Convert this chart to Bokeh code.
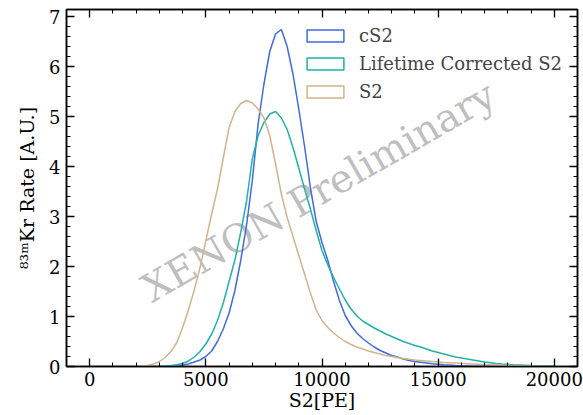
import numpy as np
from bokeh.plotting import figure
from bokeh.models import (LinearAxis, SingleIntervalTicker, Range1d, Legend, LegendItem,
                          ColumnDataSource, CustomJSTickFormatter)
from bokeh.core.properties import value
from bokeh.embed import file_html
from bokeh.resources import INLINE

# ---------------- data ----------------
s2_pe = list(range(0, 20001, 250))  # bin positions [PE]

cs2_rate = [0] * 14 + [
    0.005, 0.01, 0.03, 0.05, 0.09, 0.13, 0.2, 0.31, 0.5, 0.75,
    1.07, 1.52, 2.12, 2.82, 3.72, 4.85, 5.65, 6.3, 6.65, 6.74,
    6.4, 5.85, 5.15, 4.4, 3.58, 2.9, 2.48, 2.12, 1.7, 1.32,
    1.02, 0.82, 0.67, 0.56, 0.47, 0.39, 0.32, 0.27, 0.22, 0.19,
    0.15, 0.12, 0.1, 0.085, 0.07, 0.055, 0.045, 0.035, 0.03, 0.022,
    0.016, 0.012, 0.009, 0.007, 0.005, 0.004, 0.003, 0.002, 0.002, 0.001,
    0.001, 0.001, 0, 0, 0, 0, 0]

lifetime_rate = [0] * 12 + [
    0.005, 0.01, 0.02, 0.035, 0.06, 0.11, 0.19, 0.3, 0.45, 0.65,
    0.92, 1.27, 1.7, 2.13, 2.68, 3.3, 4.15, 4.62, 4.88, 5.05,
    5.1, 4.97, 4.74, 4.38, 3.97, 3.55, 3.15, 2.72, 2.32, 2.03,
    1.78, 1.55, 1.33, 1.15, 1.01, 0.91, 0.84, 0.77, 0.71, 0.65,
    0.6, 0.55, 0.5, 0.46, 0.42, 0.39, 0.35, 0.31, 0.28, 0.25,
    0.22, 0.19, 0.17, 0.15, 0.13, 0.11, 0.09, 0.075, 0.06, 0.05,
    0.042, 0.035, 0.03, 0.025, 0.02, 0.016, 0.013, 0.01, 0.008]

s2_rate = [0] * 8 + [
    0.005, 0.01, 0.025, 0.05, 0.1, 0.18, 0.3, 0.48, 0.78, 1.13,
    1.53, 1.98, 2.52, 3.05, 3.55, 4.17, 4.78, 5.1, 5.26, 5.32,
    5.27, 5.15, 4.97, 4.62, 4.05, 3.45, 2.98, 2.6, 2.22, 1.85,
    1.47, 1.13, 0.92, 0.78, 0.67, 0.58, 0.5, 0.44, 0.39, 0.35,
    0.31, 0.28, 0.25, 0.22, 0.2, 0.18, 0.16, 0.145, 0.13, 0.12,
    0.11, 0.1, 0.09, 0.082, 0.075, 0.068, 0.06, 0.055, 0.05, 0.045,
    0.04, 0.035, 0.03, 0.025, 0.02, 0.017, 0.014, 0.011, 0.008, 0.006,
    0.004, 0.002, 0.001]

series_labels = ["cS2", "Lifetime Corrected S2", "S2"]
series_colors = ["royalblue", "lightseagreen", "tan"]

x_ticks_interval = 5000
y_ticks_interval = 1

assert len(cs2_rate) == len(s2_pe) == len(lifetime_rate) == len(s2_rate)

FONT = "DejaVu Serif"
FS = "18px"
FS_LABEL = "19px"

p = figure(width=583, height=415, output_backend="svg", toolbar_location=None,
           x_range=Range1d(-1000, 21000), y_range=Range1d(0, 7.14),
           min_border_left=66, min_border_right=6, min_border_top=9, min_border_bottom=49)
p.xgrid.visible = False
p.ygrid.visible = False
p.outline_line_color = "black"
p.outline_line_width = 1.5
p.background_fill_color = "white"
p.border_fill_color = "white"

# watermark (drawn first, behind the curves)
p.text(x=[9850], y=[3.5], text=["XENON Preliminary"], angle=np.pi / 6,
       text_font=value(FONT), text_font_size=value("39px"), text_color="gray",
       text_alpha=0.5, text_align="center", text_baseline="middle")

src = ColumnDataSource(dict(x=s2_pe, cs2=cs2_rate, lt=lifetime_rate, s2=s2_rate))
for col, c in zip(["cs2", "lt", "s2"], series_colors):
    p.line("x", col, source=src, line_color=c, line_width=1.5)

# legend handles: outlined boxes (their own data lies outside the visible ranges)
dummy = []
for c in series_colors:
    e = ColumnDataSource(dict(left=[-5000], right=[-4000], top=[-2], bottom=[-3]))
    dummy.append(p.quad(left="left", right="right", top="top", bottom="bottom", source=e,
                        fill_color=None, line_color=c, line_width=1.5))

legend = Legend(items=[LegendItem(label=l, renderers=[r]) for l, r in zip(series_labels, dummy)],
                location=(236, 264), glyph_width=46, glyph_height=15, label_standoff=11,
                label_text_font=FONT, label_text_font_size=FS, border_line_color=None,
                background_fill_alpha=0, padding=0, spacing=7, margin=0, label_height=20)
p.add_layout(legend)


def style(ax, labels=True):
    ax.axis_line_color = "black"
    ax.axis_line_width = 1.5
    ax.major_tick_in = 8
    ax.major_tick_out = 0
    ax.minor_tick_in = 4
    ax.minor_tick_out = 0
    ax.major_tick_line_color = "black"
    ax.minor_tick_line_color = "black"
    ax.major_tick_line_width = 1.3
    ax.minor_tick_line_width = 1.0
    ax.major_label_text_font = FONT
    ax.major_label_text_font_size = FS
    ax.major_label_text_color = "black"
    ax.axis_label_text_font = FONT
    ax.axis_label_text_font_size = FS_LABEL
    ax.axis_label_text_font_style = "normal"
    ax.axis_label_text_color = "black"
    if not labels:
        ax.formatter = CustomJSTickFormatter(code="return ''")
        ax.major_label_text_font_size = "1px"
        ax.major_label_standoff = 0


xt = SingleIntervalTicker(interval=x_ticks_interval, num_minor_ticks=5)
yt = SingleIntervalTicker(interval=y_ticks_interval, num_minor_ticks=5)
p.xaxis[0].ticker = xt
p.yaxis[0].ticker = yt
style(p.xaxis[0])
style(p.yaxis[0])
p.xaxis[0].axis_label = "S2[PE]"
p.yaxis[0].axis_label = "⁸³ᵐKr Rate [A.U.]"
p.xaxis[0].major_label_standoff = 5
p.xaxis[0].axis_label_standoff = 0
p.yaxis[0].major_label_standoff = 6
p.yaxis[0].axis_label_standoff = 8

top = LinearAxis(ticker=SingleIntervalTicker(interval=x_ticks_interval, num_minor_ticks=5))
right = LinearAxis(ticker=SingleIntervalTicker(interval=y_ticks_interval, num_minor_ticks=5))
style(top, labels=False)
style(right, labels=False)
p.add_layout(top, "above")
p.add_layout(right, "right")

open("out.html", "w").write(file_html(p, INLINE))
